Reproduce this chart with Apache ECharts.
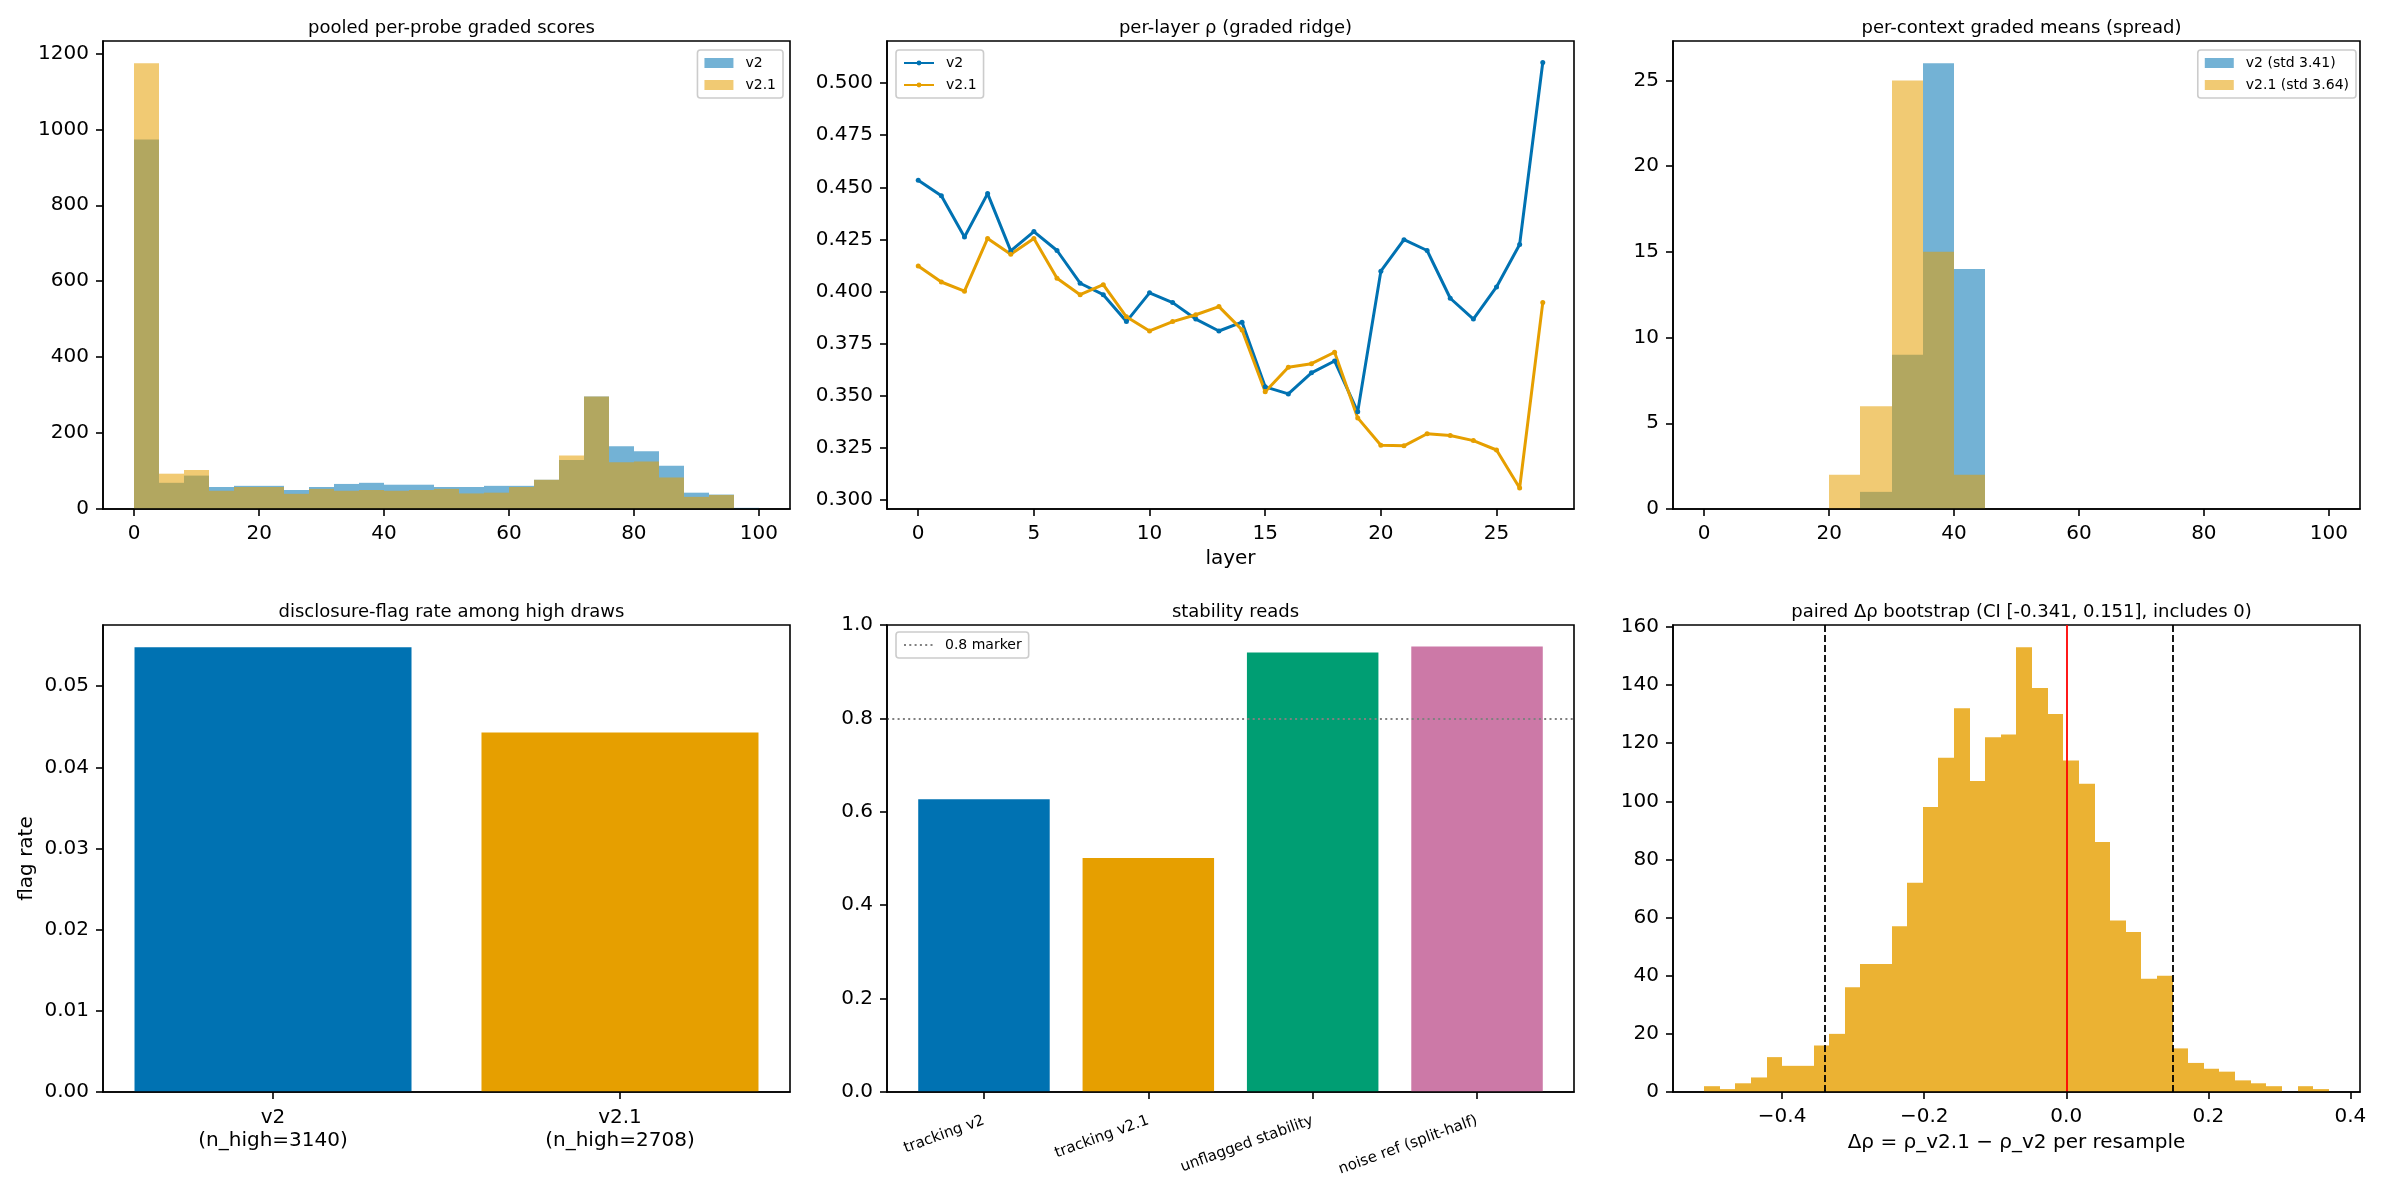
<!DOCTYPE html>
<html>
<head>
<meta charset="utf-8">
<script src="https://cdn.jsdelivr.net/npm/echarts@6/dist/echarts.min.js"></script>
<style>
  html, body { margin: 0; padding: 0; background: #fff; }
  #main { width: 2382px; height: 1185px; }
</style>
</head>
<body>
<div id="main"></div>
<script>
// ---- data ----
// pooled per-probe graded scores, 25 bins of width 4
var scoreBinEdges = [0, 4, 8, 12, 16, 20, 24, 28, 32, 36, 40, 44, 48, 52, 56, 60, 64, 68, 72, 76, 80, 84, 88, 92, 96, 100];
var scoresV2  = [973, 69, 88, 58, 61, 61, 50, 58, 66, 69, 64, 64, 58, 58, 61, 61, 77, 129, 296, 165, 152, 114, 43, 38, 3];
var scoresV21 = [1174, 93, 103, 48, 58, 58, 40, 53, 48, 50, 48, 50, 53, 41, 43, 58, 77, 141, 296, 123, 125, 83, 32, 37, 0];
var scoreTicks = [0, 20, 40, 60, 80, 100];
var scoreCountTicks = [0, 200, 400, 600, 800, 1000, 1200];

// per-layer rho
var layers = [0, 1, 2, 3, 4, 5, 6, 7, 8, 9, 10, 11, 12, 13, 14, 15, 16, 17, 18, 19, 20, 21, 22, 23, 24, 25, 26, 27];
var rhoV2  = [0.4534, 0.4460, 0.4262, 0.4470, 0.4195, 0.4288, 0.4197, 0.4040, 0.3985, 0.3856, 0.3994, 0.3947, 0.3868, 0.3811,
              0.3853, 0.3543, 0.3509, 0.3610, 0.3667, 0.3423, 0.4098, 0.4249, 0.4197, 0.3968, 0.3868, 0.4022, 0.4226, 0.5099];
var rhoV21 = [0.4123, 0.4046, 0.4002, 0.4255, 0.4179, 0.4255, 0.4064, 0.3985, 0.4033, 0.3879, 0.3811, 0.3856, 0.3889, 0.3928,
              0.3816, 0.3519, 0.3637, 0.3654, 0.3709, 0.3394, 0.3263, 0.3260, 0.3318, 0.3310, 0.3285, 0.3240, 0.3058, 0.3947];
var layerTicks = [0, 5, 10, 15, 20, 25];
var rhoTicks = [0.300, 0.325, 0.350, 0.375, 0.400, 0.425, 0.450, 0.475, 0.500];

// per-context graded means, 20 bins of width 5
var ctxBinEdges = [0, 5, 10, 15, 20, 25, 30, 35, 40, 45, 50, 55, 60, 65, 70, 75, 80, 85, 90, 95, 100];
var ctxV2  = [0, 0, 0, 0, 0, 1, 9, 26, 14, 0, 0, 0, 0, 0, 0, 0, 0, 0, 0, 0];
var ctxV21 = [0, 0, 0, 0, 2, 6, 25, 15, 2, 0, 0, 0, 0, 0, 0, 0, 0, 0, 0, 0];
var ctxTicks = [0, 20, 40, 60, 80, 100];
var ctxCountTicks = [0, 5, 10, 15, 20, 25];

// disclosure-flag rate
var flagLabels = ['v2\n(n_high=3140)', 'v2.1\n(n_high=2708)'];
var flagRates = [0.0548, 0.0443];
var flagTicks = [0, 0.01, 0.02, 0.03, 0.04, 0.05];

// stability reads
var stabLabels = ['tracking v2', 'tracking v2.1', 'unflagged stability', 'noise ref (split-half)'];
var stabValues = [0.627, 0.501, 0.941, 0.954];
var stabTicks = [0, 0.2, 0.4, 0.6, 0.8, 1.0];
var markerLevel = 0.8;

// paired delta-rho bootstrap, 40 bins
var deltaBinEdges = [-0.5096, -0.4876, -0.4657, -0.4437, -0.4217, -0.3997, -0.3777, -0.3558, -0.3338, -0.3118, -0.2898,
                     -0.2679, -0.2459, -0.2239, -0.2019, -0.1799, -0.1580, -0.1360, -0.1140, -0.0920, -0.0701,
                     -0.0481, -0.0261, -0.0041, 0.0179, 0.0398, 0.0618, 0.0838, 0.1058, 0.1278, 0.1497,
                     0.1717, 0.1937, 0.2157, 0.2376, 0.2596, 0.2816, 0.3036, 0.3256, 0.3475, 0.3695];
var deltaCounts = [2, 1, 3, 5, 12, 9, 9, 16, 20, 36, 44, 44, 57, 72, 98, 115, 132, 107, 122, 123,
                   153, 139, 130, 114, 106, 86, 59, 55, 39, 40, 15, 10, 8, 7, 4, 3, 2, 0, 2, 1];
var ciBounds = [-0.341, 0.151];
var deltaTicks = [-0.4, -0.2, 0.0, 0.2, 0.4];
var deltaCountTicks = [0, 20, 40, 60, 80, 100, 120, 140, 160];

var titles = [
    'pooled per-probe graded scores',
    'per-layer ρ (graded ridge)',
    'per-context graded means (spread)',
    'disclosure-flag rate among high draws',
    'stability reads',
    'paired Δρ bootstrap (CI [-0.341, 0.151], includes 0)'
];

// ---- styling ----
var FONT = 'DejaVu Sans';
var BLUE = '#0072B2', ORANGE = '#E69F00', GREEN = '#009E73', PINK = '#CC79A7';
var BLUE_A = 'rgba(0,114,178,0.55)', ORANGE_A = 'rgba(230,159,0,0.55)';

var grids = [
    { left: 103, top: 41, width: 687, height: 468 },
    { left: 887, top: 41, width: 687, height: 468 },
    { left: 1673, top: 41, width: 687, height: 468 },
    { left: 103, top: 625, width: 687, height: 467 },
    { left: 887, top: 625, width: 687, height: 467 },
    { left: 1673, top: 625, width: 687, height: 467 }
];

function valAxis(gi, min, max, ticks, fmt) {
    return {
        type: 'value', gridIndex: gi, min: min, max: max, z: 5,
        axisLine: { show: true, onZero: false, lineStyle: { color: '#000', width: 1.6 } },
        axisTick: { show: true, length: 7, lineStyle: { color: '#000', width: 1.6 }, customValues: ticks },
        axisLabel: { customValues: ticks, formatter: fmt, fontFamily: FONT, fontSize: 20, color: '#000', margin: 14 },
        splitLine: { show: false }
    };
}

// histogram bins as rects; edges snapped to whole pixels so neighbours meet without seams
function histSeries(name, gi, edges, counts, color) {
    return {
        type: 'custom', name: name, xAxisIndex: gi, yAxisIndex: gi,
        itemStyle: { color: color },
        encode: { x: [0, 1], y: 2 },
        data: counts.map(function (c, i) { return [edges[i], edges[i + 1], c]; }),
        renderItem: function (params, api) {
            var p0 = api.coord([api.value(0), api.value(2)]);
            var p1 = api.coord([api.value(1), 0]);
            var x0 = Math.round(p0[0]), x1 = Math.round(p1[0]);
            return {
                type: 'rect',
                shape: { x: x0, y: p0[1], width: x1 - x0, height: p1[1] - p0[1] },
                style: { fill: color }
            };
        }
    };
}

function legendBox(pos, items, w, h) {
    var lg = {
        orient: 'vertical', data: items, itemWidth: w, itemHeight: h, itemGap: 8,
        padding: [6, 7, 6, 7], borderColor: '#cccccc', borderWidth: 1.6, borderRadius: 3,
        backgroundColor: 'rgba(255,255,255,0.8)', selectedMode: false,
        textStyle: { fontFamily: FONT, fontSize: 14, color: '#000', padding: [0, 0, 0, 7] },
        formatter: function (n) { return n.split('|')[1]; }
    };
    for (var k in pos) lg[k] = pos[k];
    return lg;
}

var int = function (v) { return String(v); };
var axisName = { fontFamily: FONT, fontSize: 20, color: '#000' };

var xAxes = [
    valAxis(0, -5, 105, scoreTicks, int),
    valAxis(1, -1.35, 28.35, layerTicks, int),
    valAxis(2, -5, 105, ctxTicks, int),
    valAxis(3, -0.49, 1.49, [0, 1], function (v) { return flagLabels[Math.round(v)]; }),
    valAxis(4, -0.59, 3.59, [0, 1, 2, 3], function (v) { return stabLabels[Math.round(v)]; }),
    valAxis(5, -0.5536, 0.4135, deltaTicks, function (v) { return v.toFixed(1).replace('-', '\u2212'); })
];
xAxes.forEach(function (a) { a.axisLabel.margin = 15; });
xAxes[1].name = 'layer';
xAxes[1].nameLocation = 'middle';
xAxes[1].nameGap = 40;
xAxes[1].nameTextStyle = axisName;
xAxes[3].axisLabel.lineHeight = 23;
xAxes[3].axisLabel.margin = 14;
xAxes[4].axisLabel.rotate = 20;
xAxes[4].axisLabel.fontSize = 15;
xAxes[4].axisLabel.margin = 28;
xAxes[5].name = 'Δρ = ρ_v2.1 − ρ_v2 per resample';
xAxes[5].nameLocation = 'middle';
xAxes[5].nameGap = 41;
xAxes[5].nameTextStyle = axisName;

var yAxes = [
    valAxis(0, 0, 1232.7, scoreCountTicks, int),
    valAxis(1, 0.2957, 0.5202, rhoTicks, function (v) { return v.toFixed(3); }),
    valAxis(2, 0, 27.3, ctxCountTicks, int),
    valAxis(3, 0, 0.05754, flagTicks, function (v) { return v.toFixed(2); }),
    valAxis(4, 0, 1.0, stabTicks, function (v) { return v.toFixed(1); }),
    valAxis(5, 0, 160.65, deltaCountTicks, int)
];
yAxes[3].name = 'flag rate';
yAxes[3].nameLocation = 'middle';
yAxes[3].nameGap = 66;
yAxes[3].nameTextStyle = axisName;

var markerStyle = { color: '#808080', width: 1.8, type: [2, 3.3] };

var series = [
    histSeries('pool|v2', 0, scoreBinEdges, scoresV2, BLUE_A),
    histSeries('pool|v2.1', 0, scoreBinEdges, scoresV21, ORANGE_A),
    {
        type: 'line', name: 'layer|v2', xAxisIndex: 1, yAxisIndex: 1,
        data: layers.map(function (l, i) { return [l, rhoV2[i]]; }),
        symbol: 'circle', symbolSize: 5, showSymbol: true,
        lineStyle: { width: 3, color: BLUE }, itemStyle: { color: BLUE }
    },
    {
        type: 'line', name: 'layer|v2.1', xAxisIndex: 1, yAxisIndex: 1,
        data: layers.map(function (l, i) { return [l, rhoV21[i]]; }),
        symbol: 'circle', symbolSize: 5, showSymbol: true,
        lineStyle: { width: 3, color: ORANGE }, itemStyle: { color: ORANGE }
    },
    histSeries('ctx|v2 (std 3.41)', 2, ctxBinEdges, ctxV2, BLUE_A),
    histSeries('ctx|v2.1 (std 3.64)', 2, ctxBinEdges, ctxV21, ORANGE_A),
    {
        type: 'bar', xAxisIndex: 3, yAxisIndex: 3, barWidth: 277,
        data: flagRates.map(function (v, i) { return { value: [i, v], itemStyle: { color: [BLUE, ORANGE][i] } }; })
    },
    {
        type: 'bar', xAxisIndex: 4, yAxisIndex: 4, barWidth: 131.5,
        data: stabValues.map(function (v, i) { return { value: [i, v], itemStyle: { color: [BLUE, ORANGE, GREEN, PINK][i] } }; }),
        markLine: {
            silent: true, symbol: ['none', 'none'], label: { show: false }, animation: false,
            lineStyle: markerStyle,
            data: [{ yAxis: markerLevel }]
        }
    },
    {
        type: 'line', name: 'stab|0.8 marker', xAxisIndex: 4, yAxisIndex: 4, data: [],
        symbol: 'none', lineStyle: markerStyle, itemStyle: { color: '#808080' }
    },
    histSeries('delta', 5, deltaBinEdges, deltaCounts, 'rgba(230,159,0,0.8)'),
    {
        type: 'line', xAxisIndex: 5, yAxisIndex: 5, data: [],
        markLine: {
            silent: true, symbol: ['none', 'none'], label: { show: false }, animation: false,
            data: [
                { xAxis: ciBounds[0], lineStyle: { color: '#000', width: 1.8, type: [7, 3] } },
                { xAxis: ciBounds[1], lineStyle: { color: '#000', width: 1.8, type: [7, 3] } },
                { xAxis: 0, lineStyle: { color: '#ff0000', width: 1.8, type: 'solid' } }
            ]
        }
    }
];

var chart = echarts.init(document.getElementById('main'), null, { renderer: 'canvas' });
chart.setOption({
    animation: false,
    backgroundColor: '#fff',
    title: titles.map(function (t, i) {
        return {
            text: t, left: grids[i].left + grids[i].width / 2, top: i < 3 ? 14 : 598, textAlign: 'center',
            textStyle: { fontFamily: FONT, fontSize: 18, fontWeight: 'normal', color: '#000' }
        };
    }),
    grid: grids.map(function (g) {
        return { left: g.left, top: g.top, width: g.width, height: g.height, show: true,
                 borderColor: '#000', borderWidth: 1.6, backgroundColor: 'transparent', containLabel: false };
    }),
    legend: [
        legendBox({ right: 1599, top: 50 }, [{ name: 'pool|v2', icon: 'rect' }, { name: 'pool|v2.1', icon: 'rect' }], 29, 10),
        legendBox({ left: 896, top: 50 }, [{ name: 'layer|v2' }, { name: 'layer|v2.1' }], 30, 6),
        legendBox({ right: 26, top: 50 }, [{ name: 'ctx|v2 (std 3.41)', icon: 'rect' }, { name: 'ctx|v2.1 (std 3.64)', icon: 'rect' }], 29, 10),
        legendBox({ left: 896, top: 632 }, [{ name: 'stab|0.8 marker', itemStyle: { color: 'rgba(0,0,0,0)', borderWidth: 0 } }], 29, 10)
    ],
    xAxis: xAxes,
    yAxis: yAxes,
    series: series
});
</script>
</body>
</html>
